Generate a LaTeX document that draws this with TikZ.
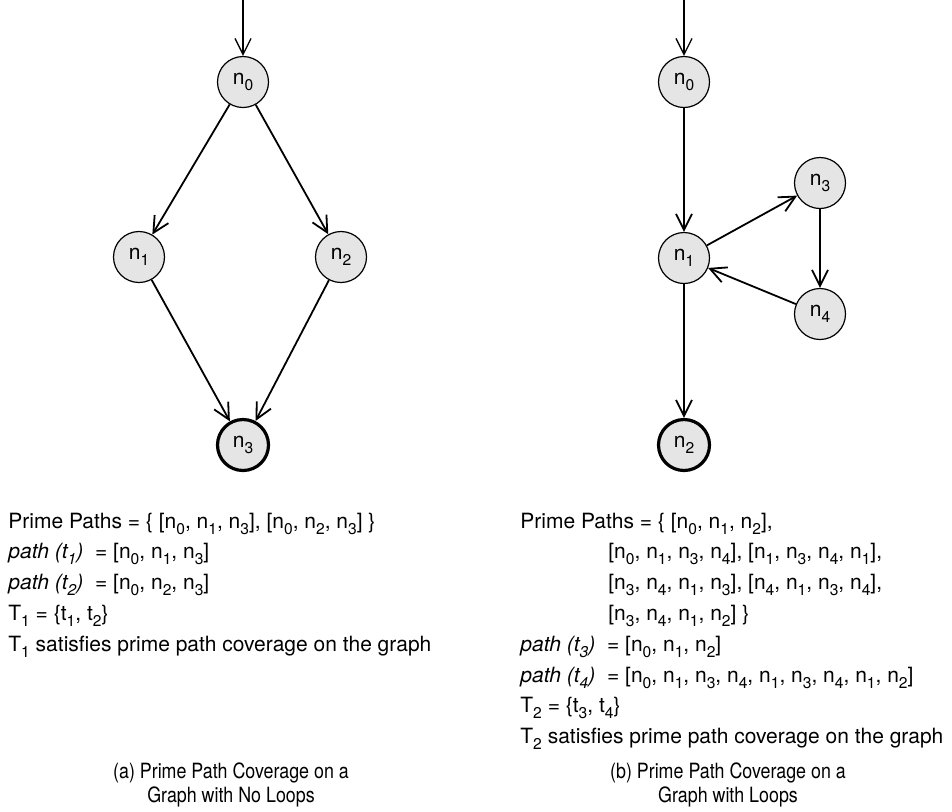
\documentclass[tikz,border=0pt]{standalone}
\usepackage{fontspec}
\setmainfont{TeX Gyre Heros}
\newfontfamily\capfont[FakeStretch=0.85]{TeX Gyre Heros}
\usetikzlibrary{positioning, arrows.meta, calc}

\newcommand{\lowsub}[1]{\raisebox{-3pt}{\fontsize{7.8}{9}\selectfont #1}}
\newcommand{\nsub}[1]{n\lowsub{#1}}
\newcommand{\tsub}[1]{t\lowsub{#1}}

\begin{document}
\begin{tikzpicture}[
        % one unit = one pixel of the reference, y grows downwards
        x=0.5pt, y=-0.5pt,
        on grid,
        every node/.style={font=\fontsize{10.5}{12.6}\selectfont},
        vertex/.style={circle, draw, line width=0.6pt, fill=black!10,
                       minimum size=25.5pt, inner sep=0pt},
        finalstate/.style={vertex, line width=1.6pt},
        arrow/.style={-{Straight Barb[length=8pt, width=8pt]}, line width=0.9pt},
        entry/.style={-{Straight Barb[length=8pt, width=8pt]}, line width=0.65pt},
        txt/.style={anchor=base west, inner sep=0pt},
        subcap/.style={align=center, inner sep=0pt,
                       font=\capfont\fontsize{10.5}{12}\selectfont}
    ]
    \useasboundingbox (0,0) rectangle (952,811);

    % --- (a) graph without loops ---
    \node[vertex] (a0) at (243,82) {\nsub{0}};
    \node[vertex, below left=87.5pt and 52pt of a0] (a1) {\nsub{1}};
    \node[vertex, below right=87.5pt and 49pt of a0] (a2) {\nsub{2}};
    \node[finalstate, below=181.5pt of a0] (a3) {\nsub{3}};
    \coordinate (a_in) at (243,0);

    % --- (b) graph with loops ---
    \node[vertex] (b0) at (684,82) {\nsub{0}};
    \node[vertex, below=88pt of b0] (b1) {\nsub{1}};
    \node[vertex, above right=37.5pt and 68pt of b1] (b3) {\nsub{3}};
    \node[vertex, below right=28pt and 68pt of b1] (b4) {\nsub{4}};
    \node[finalstate, below=93.5pt of b1] (b2) {\nsub{2}};
    \coordinate (b_in) at (684,0);

    % --- Arrows ---
    \draw[entry] (a_in) -- (a0);
    \draw[arrow] (a0) -- (a1);
    \draw[arrow] (a0) -- (a2);
    \draw[arrow] (a1) -- (a3);
    \draw[arrow] (a2) -- (a3);

    \draw[entry] (b_in) -- (b0);
    \draw[arrow] (b0) -- (b1);
    \draw[arrow] (b1) -- (b3);
    \draw[arrow] (b3) -- (b4);
    \draw[arrow] (b4) -- (b1);
    \draw[arrow] (b1) -- (b2);

    % --- Prime paths and test sets ---
    \coordinate (ppA) at (8,528);
    \foreach \line [count=\i from 0] in {
        {Prime Paths = \{ [\nsub{0}, \nsub{1}, \nsub{3}], [\nsub{0}, \nsub{2}, \nsub{3}] \}},
        {\textit{path (\tsub{1})}\hspace{3pt} = [\nsub{0}, \nsub{1}, \nsub{3}]},
        {\textit{path (\tsub{2})}\hspace{3pt} = [\nsub{0}, \nsub{2}, \nsub{3}]},
        {T\lowsub{1} = \{\tsub{1}, \tsub{2}\}},
        {T\lowsub{1} satisfies prime path coverage on the graph}}
        \node[txt] (la\i) at ($(ppA)+(0,30.8*\i)$) {\line};

    \coordinate (ppB) at (520,528);
    \foreach \dx/\line [count=\i from 0] in {
        0/{Prime Paths = \{ [\nsub{0}, \nsub{1}, \nsub{2}],},
        88/{[\nsub{0}, \nsub{1}, \nsub{3}, \nsub{4}], [\nsub{1}, \nsub{3}, \nsub{4}, \nsub{1}],},
        88/{[\nsub{3}, \nsub{4}, \nsub{1}, \nsub{3}], [\nsub{4}, \nsub{1}, \nsub{3}, \nsub{4}],},
        88/{[\nsub{3}, \nsub{4}, \nsub{1}, \nsub{2}] \}},
        0/{\textit{path (\tsub{3})}\hspace{3pt} = [\nsub{0}, \nsub{1}, \nsub{2}]},
        0/{\textit{path (\tsub{4})}\hspace{3pt} = [\nsub{0}, \nsub{1}, \nsub{3}, \nsub{4}, \nsub{1}, \nsub{3}, \nsub{4}, \nsub{1}, \nsub{2}]},
        0/{T\lowsub{2} = \{\tsub{3}, \tsub{4}\}},
        0/{T\lowsub{2} satisfies prime path coverage on the graph}}
        \node[txt] (lb\i) at ($(ppB)+(\dx,30.8*\i)$) {\line};

    % --- Captions ---
    \node[subcap] (capA) at (231,785) {(a) Prime Path Coverage on a\\Graph with No Loops};
    \node[subcap] (capB) at (728,785) {(b) Prime Path Coverage on a\\Graph with Loops};

\end{tikzpicture}
\end{document}
